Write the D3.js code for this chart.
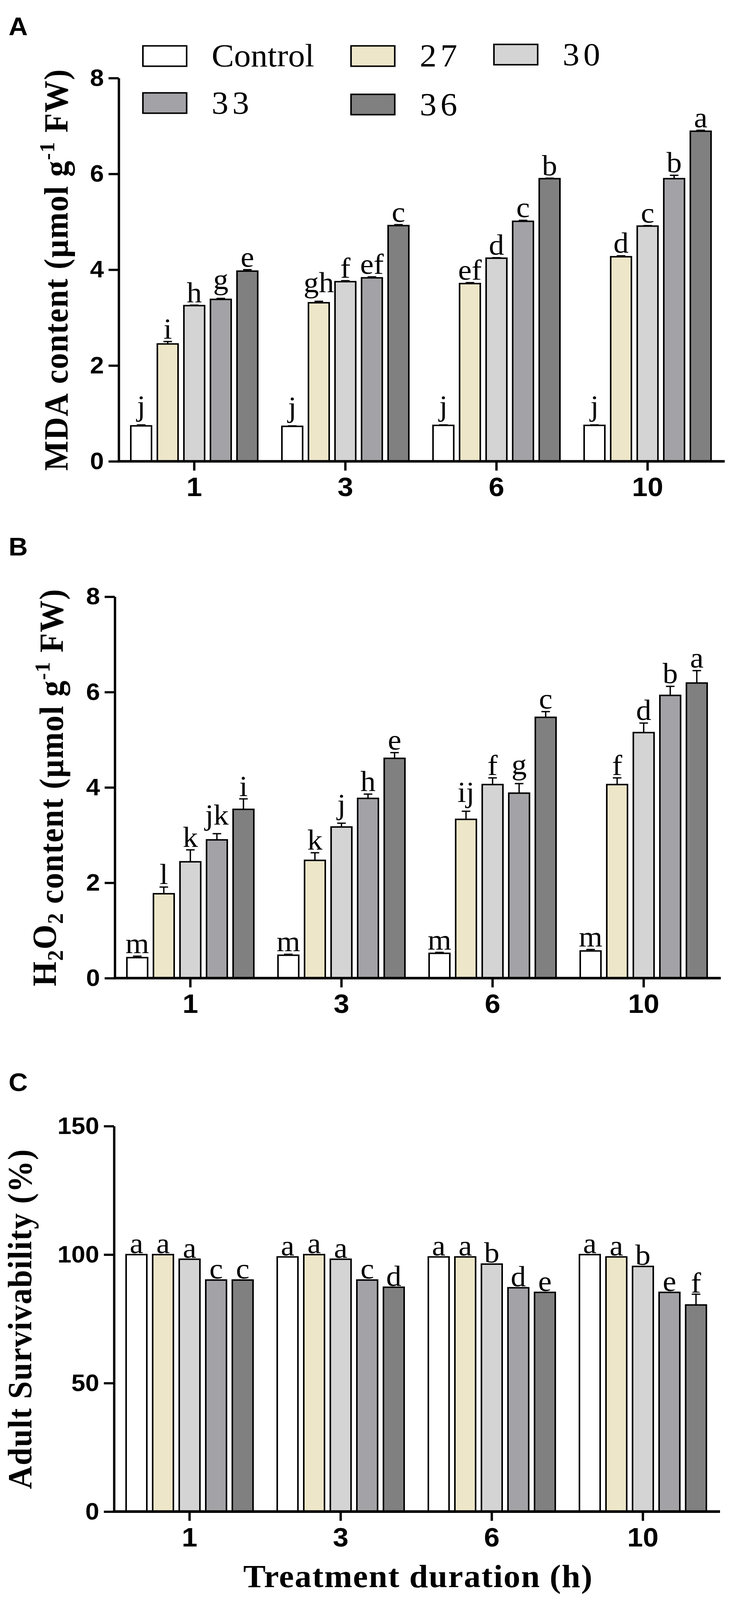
<!DOCTYPE html>
<html>
<head>
<meta charset="utf-8">
<script src="https://cdn.jsdelivr.net/npm/d3@7"></script>
<style>
  html, body { margin: 0; padding: 0; background: #fff; overflow: hidden; }
  svg { display: block; }
</style>
</head>
<body>
<script>
// groups on the x axis (treatment duration, h) and temperature series
const groups = ["1", "3", "6", "10"];
const series = ["Control", "27", "30", "33", "36"];
const seriesColors = ["#ffffff", "#ede6c8", "#d4d4d4", "#a3a3a7", "#808080"];

// A: MDA content, one row per duration
const mdaValues = [
  [0.74, 2.45, 3.25, 3.38, 3.97],
  [0.73, 3.31, 3.75, 3.83, 4.92],
  [0.75, 3.71, 4.24, 5.01, 5.90],
  [0.75, 4.27, 4.91, 5.90, 6.89]
];
const mdaErrors = [
  [0.02, 0.05, 0.01, 0.02, 0.03],
  [0.01, 0.03, 0.02, 0.02, 0.02],
  [0.01, 0.02, 0.01, 0.02, 0.01],
  [0.01, 0.02, 0.01, 0.07, 0.02]
];
const mdaLetters = [
  ["j", "i", "h", "g", "e"],
  ["j", "gh", "f", "ef", "c"],
  ["j", "ef", "d", "c", "b"],
  ["j", "d", "c", "b", "a"]
];

// B: H2O2 content
const h2o2Values = [
  [0.43, 1.77, 2.44, 2.90, 3.54],
  [0.48, 2.47, 3.17, 3.77, 4.61],
  [0.52, 3.33, 4.06, 3.88, 5.47],
  [0.57, 4.06, 5.15, 5.93, 6.19]
];
const h2o2Errors = [
  [0.03, 0.14, 0.25, 0.13, 0.22],
  [0.02, 0.16, 0.08, 0.09, 0.12],
  [0.02, 0.17, 0.14, 0.20, 0.12],
  [0.03, 0.14, 0.20, 0.19, 0.26]
];
const h2o2Letters = [
  ["m", "l", "k", "jk", "i"],
  ["m", "k", "j", "h", "e"],
  ["m", "ij", "f", "g", "c"],
  ["m", "f", "d", "b", "a"]
];

// C: adult survivability (%)
const survValues = [
  [100, 100, 98.2, 90.1, 90.1],
  [99.1, 100, 98.2, 90.1, 87.3],
  [99.1, 99.1, 96.3, 87.1, 85.3],
  [100, 99.1, 95.4, 85.3, 80.4]
];
const survErrors = [
  [0, 0, 0, 0, 0],
  [0, 0, 0, 0, 0],
  [0, 0, 0, 0, 0],
  [0, 0, 0, 0, 4.2]
];
const survLetters = [
  ["a", "a", "a", "c", "c"],
  ["a", "a", "a", "c", "d"],
  ["a", "a", "b", "d", "e"],
  ["a", "a", "b", "e", "f"]
];

const mdaTicks = [0, 2, 4, 6, 8];
const h2o2Ticks = [0, 2, 4, 6, 8];
const survTicks = [0, 50, 100, 150];

const W = 1867, H = 4325;
const sans = "'Liberation Sans', Arial, sans-serif";
const serif = "'Liberation Serif', 'Times New Roman', serif";

// the drawing is laid out on a 1867 x 4325 canvas and stretched to the window
const svg = d3.select("body").append("svg")
    .attr("viewBox", `0 0 ${W} ${H}`)
    .attr("preserveAspectRatio", "none")
    .style("width", "100vw")
    .style("height", "100vh");

function drawPanel(p) {
  const g = svg.append("g");
  const y = d3.scaleLinear().domain([0, p.yMax]).range([p.bottom, p.top]);
  const x0 = d3.scaleBand().domain(groups).range([p.left, p.left + 4 * 387]);
  const x1 = d3.scaleBand().domain(series).range([-170, 170])
      .paddingInner(0.22).paddingOuter(0.11);

  // panel letter
  g.append("text")
      .attr("x", 22).attr("y", p.labelY)
      .attr("font-family", sans).attr("font-weight", "bold")
      .attr("font-size", 68)
      .text(p.label);

  // bars
  const grp = g.selectAll(".grp")
    .data(groups)
    .enter().append("g")
      .attr("transform", d => `translate(${x0(d) + x0.bandwidth() / 2},0)`);

  grp.each(function(gName, gi) {
    const rows = series.map((s, si) => ({
      s, si, v: p.values[gi][si], e: p.errors[gi][si], l: p.letters[gi][si]
    }));
    const sel = d3.select(this);

    sel.selectAll("line.err")
      .data(rows.filter(d => d.e > 0))
      .enter().append("line")
        .attr("x1", d => x1(d.s) + x1.bandwidth() / 2)
        .attr("x2", d => x1(d.s) + x1.bandwidth() / 2)
        .attr("y1", d => y(d.v))
        .attr("y2", d => y(d.v + d.e))
        .attr("stroke", "#000").attr("stroke-width", 3.5);
    sel.selectAll("line.cap")
      .data(rows.filter(d => d.e > 0))
      .enter().append("line")
        .attr("x1", d => x1(d.s) + x1.bandwidth() / 2 - 11)
        .attr("x2", d => x1(d.s) + x1.bandwidth() / 2 + 11)
        .attr("y1", d => y(d.v + d.e))
        .attr("y2", d => y(d.v + d.e))
        .attr("stroke", "#000").attr("stroke-width", 3.5);

    sel.selectAll("rect")
      .data(rows)
      .enter().append("rect")
        .attr("x", d => x1(d.s))
        .attr("width", x1.bandwidth())
        .attr("y", d => y(d.v))
        .attr("height", d => y(0) - y(d.v))
        .attr("fill", d => seriesColors[d.si])
        .attr("stroke", "#000")
        .attr("stroke-width", 4);

    sel.selectAll("text")
      .data(rows)
      .enter().append("text")
        .attr("x", d => x1(d.s) + x1.bandwidth() / 2)
        .attr("y", d => y(d.v + d.e) - p.gap - (/[gjpqy]/.test(d.l) ? 17 : 0))
        .attr("text-anchor", "middle")
        .attr("font-family", serif)
        .attr("font-size", 78)
        .text(d => d.l);
  });

  // y axis
  const yAxis = g.append("g")
      .attr("transform", `translate(${p.left},0)`)
      .call(d3.axisLeft(y).tickValues(p.ticks).tickSize(26).tickSizeOuter(0).tickPadding(12));
  yAxis.select(".domain").attr("stroke-width", 6);
  yAxis.selectAll(".tick line").attr("stroke-width", 6);
  yAxis.selectAll(".tick text")
      .attr("font-family", sans).attr("font-weight", "bold")
      .attr("font-size", 64).attr("fill", "#000");

  // x axis
  const xAxis = g.append("g")
      .attr("transform", `translate(0,${p.bottom})`)
      .call(d3.axisBottom(x0).tickSize(25).tickSizeOuter(0).tickPadding(18));
  xAxis.select(".domain")
      .attr("d", `M${p.left - 3},0H${p.left + 4 * 387 + 4}`)
      .attr("stroke-width", 7);
  xAxis.selectAll(".tick line").attr("stroke-width", 6);
  xAxis.selectAll(".tick text")
      .attr("font-family", sans).attr("font-weight", "bold")
      .attr("font-size", 72).attr("fill", "#000");

  // y axis title
  const t = g.append("text")
      .attr("transform", `translate(${p.titleX},${(p.top + p.bottom) / 2}) rotate(-90)`)
      .attr("text-anchor", "middle")
      .attr("font-family", serif).attr("font-weight", "bold")
      .attr("font-size", 86)
      .attr("letter-spacing", 2);
  p.title(t);
}

function unitTitle(t, lead) {
  lead(t);
  t.append("tspan").text(" content (\u00b5mol g");
  t.append("tspan").attr("dy", -34).attr("font-size", 56).text("-1");
  t.append("tspan").attr("dy", 34).text(" FW)");
}

drawPanel({
  label: "A", labelY: 95,
  top: 211, bottom: 1247, left: 304, yMax: 8, ticks: mdaTicks,
  values: mdaValues, errors: mdaErrors, letters: mdaLetters, gap: 8,
  titleX: 173,
  title: t => unitTitle(t, s => s.append("tspan").text("MDA"))
});

drawPanel({
  label: "B", labelY: 1502,
  top: 1613, bottom: 2644, left: 294, yMax: 8, ticks: h2o2Ticks,
  values: h2o2Values, errors: h2o2Errors, letters: h2o2Letters, gap: 8,
  titleX: 143,
  title: t => unitTitle(t, s => {
    s.append("tspan").text("H");
    s.append("tspan").attr("dy", 18).attr("font-size", 58).text("2");
    s.append("tspan").attr("dy", -18).text("O");
    s.append("tspan").attr("dy", 18).attr("font-size", 58).text("2");
    s.append("tspan").attr("dy", -18).text("");
  })
});

drawPanel({
  label: "C", labelY: 2949,
  top: 3044, bottom: 4086, left: 292, yMax: 150, ticks: survTicks,
  values: survValues, errors: survErrors, letters: survLetters, gap: 4,
  titleX: 80,
  title: t => t.text("Adult Survivability (%)")
});

// legend (panel A)
const legendPos = [
  [366, 124], [899, 124], [1265, 120],
  [366, 251], [899, 255]
];
const legend = svg.append("g");
series.forEach((s, i) => {
  const [lx, ly] = legendPos[i];
  legend.append("rect")
      .attr("x", lx).attr("y", ly)
      .attr("width", 112).attr("height", 55)
      .attr("fill", seriesColors[i])
      .attr("stroke", "#000").attr("stroke-width", 4);
  legend.append("text")
      .attr("x", lx + 176).attr("y", ly + 56)
      .attr("font-family", serif)
      .attr("font-size", 86)
      .attr("letter-spacing", s === "Control" ? 0 : 10)
      .text(s);
});

// x axis title (panel C)
svg.append("text")
    .attr("x", 1071).attr("y", 4290)
    .attr("text-anchor", "middle")
    .attr("font-family", serif).attr("font-weight", "bold")
    .attr("font-size", 86)
    .attr("letter-spacing", 2)
    .text("Treatment duration (h)");
</script>
</body>
</html>
